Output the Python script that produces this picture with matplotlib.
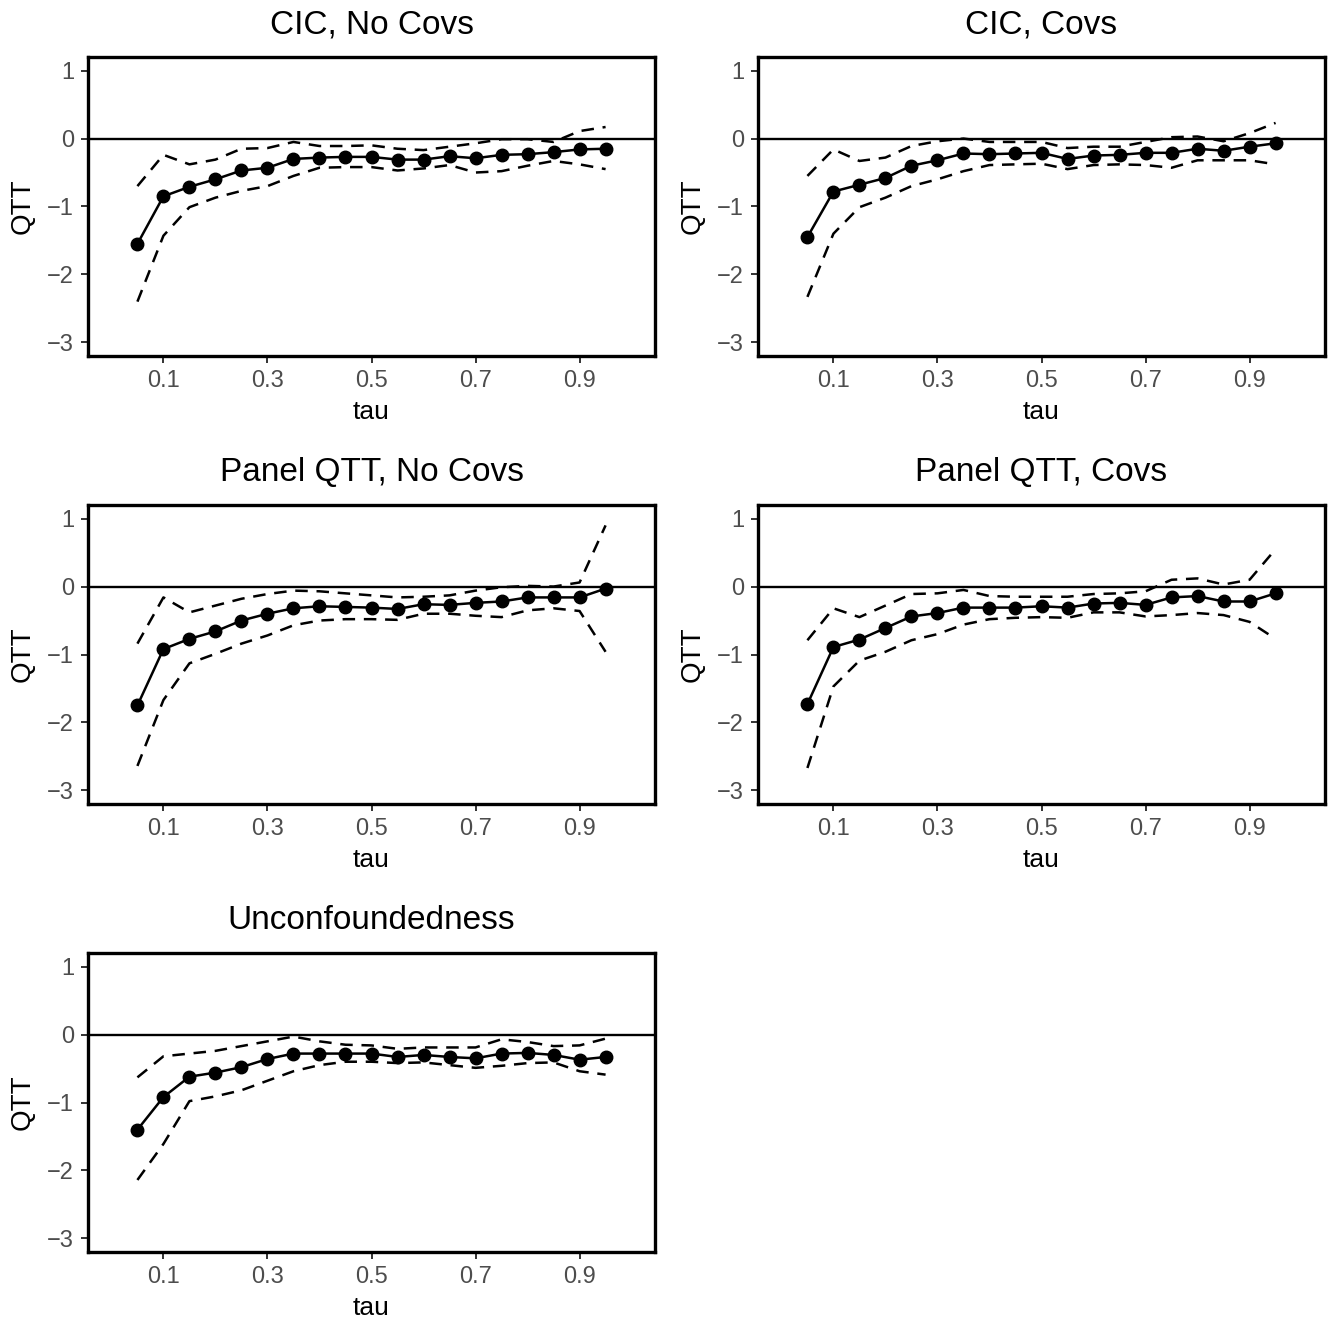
import matplotlib
matplotlib.use("Agg")
import matplotlib.pyplot as plt
import numpy as np

plt.rcParams['font.family'] = ['Liberation Sans', 'DejaVu Sans']

tau = np.array([0.05, 0.10, 0.15, 0.20, 0.25, 0.30, 0.35, 0.40, 0.45, 0.50,
                0.55, 0.60, 0.65, 0.70, 0.75, 0.80, 0.85, 0.90, 0.95])

titles = ["CIC, No Covs", "CIC, Covs", "Panel QTT, No Covs", "Panel QTT, Covs", "Unconfoundedness"]

# CIC, No Covs
cic_nc = [-1.55, -0.85, -0.71, -0.60, -0.47, -0.43, -0.30, -0.28, -0.27, -0.27,
          -0.31, -0.31, -0.26, -0.29, -0.24, -0.23, -0.20, -0.16, -0.15]
cic_nc_hi = [-0.70, -0.24, -0.38, -0.31, -0.15, -0.14, -0.05, -0.11, -0.11, -0.10,
             -0.15, -0.17, -0.12, -0.07, -0.01, -0.01, -0.05, 0.11, 0.17]
cic_nc_lo = [-2.40, -1.43, -1.01, -0.87, -0.77, -0.70, -0.55, -0.43, -0.42, -0.42,
             -0.47, -0.44, -0.39, -0.50, -0.48, -0.40, -0.33, -0.38, -0.45]

# CIC, Covs
cic_c = [-1.45, -0.78, -0.68, -0.58, -0.40, -0.32, -0.22, -0.23, -0.22, -0.21,
         -0.30, -0.25, -0.24, -0.21, -0.21, -0.15, -0.18, -0.12, -0.07]
cic_c_hi = [-0.55, -0.16, -0.33, -0.28, -0.11, -0.04, 0.00, -0.05, -0.05, -0.05,
            -0.14, -0.12, -0.12, -0.05, 0.02, 0.03, -0.04, 0.08, 0.23]
cic_c_lo = [-2.33, -1.40, -1.01, -0.87, -0.70, -0.60, -0.48, -0.39, -0.38, -0.37,
            -0.45, -0.39, -0.38, -0.39, -0.43, -0.32, -0.32, -0.32, -0.38]

# Panel QTT, No Covs
pq_nc = [-1.75, -0.92, -0.77, -0.66, -0.50, -0.40, -0.32, -0.29, -0.30, -0.31,
         -0.33, -0.26, -0.27, -0.24, -0.22, -0.16, -0.16, -0.16, -0.03]
pq_nc_hi = [-0.84, -0.16, -0.38, -0.28, -0.18, -0.11, -0.06, -0.07, -0.10, -0.13,
            -0.16, -0.15, -0.13, -0.06, -0.01, 0.01, 0.00, 0.06, 0.90]
pq_nc_lo = [-2.64, -1.67, -1.13, -0.99, -0.84, -0.72, -0.57, -0.50, -0.48, -0.48,
            -0.49, -0.40, -0.40, -0.43, -0.45, -0.35, -0.32, -0.36, -0.96]

# Panel QTT, Covs
pq_c = [-1.73, -0.89, -0.78, -0.61, -0.44, -0.39, -0.31, -0.31, -0.31, -0.29,
        -0.31, -0.25, -0.24, -0.27, -0.16, -0.14, -0.22, -0.22, -0.10]
pq_c_hi = [-0.79, -0.32, -0.45, -0.28, -0.11, -0.10, -0.05, -0.14, -0.15, -0.15,
           -0.15, -0.11, -0.10, -0.07, 0.10, 0.12, 0.03, 0.10, 0.55]
pq_c_lo = [-2.67, -1.47, -1.09, -0.96, -0.79, -0.70, -0.56, -0.48, -0.46, -0.45,
           -0.46, -0.38, -0.38, -0.44, -0.42, -0.39, -0.42, -0.52, -0.77]

# Unconfoundedness
unc = [-1.40, -0.92, -0.62, -0.56, -0.48, -0.36, -0.28, -0.28, -0.28, -0.28,
       -0.33, -0.30, -0.33, -0.35, -0.28, -0.27, -0.30, -0.37, -0.33]
unc_hi = [-0.63, -0.32, -0.28, -0.24, -0.17, -0.10, -0.03, -0.10, -0.15, -0.16,
          -0.21, -0.19, -0.19, -0.19, -0.07, -0.11, -0.17, -0.16, -0.06]
unc_lo = [-2.14, -1.61, -0.98, -0.91, -0.82, -0.68, -0.54, -0.45, -0.40, -0.40,
          -0.42, -0.41, -0.45, -0.49, -0.46, -0.42, -0.41, -0.54, -0.59]

est = [cic_nc, cic_c, pq_nc, pq_c, unc]
hi = [cic_nc_hi, cic_c_hi, pq_nc_hi, pq_c_hi, unc_hi]
lo = [cic_nc_lo, cic_c_lo, pq_nc_lo, pq_c_lo, unc_lo]

W, H = 1330, 1321
fig = plt.figure(figsize=(W / 100, H / 100), dpi=100)

lefts = [88, 758]
tops = [57, 505, 953]
aw, ah = 567, 299

for i in range(5):
    r, c = divmod(i, 2)
    ax = fig.add_axes([lefts[c] / W, 1 - (tops[r] + ah) / H, aw / W, ah / H])
    ax.axhline(0, color='black', lw=1.7)
    ax.plot(tau, hi[i], color='black', lw=1.8, ls=(0, (5, 3.5)))
    ax.plot(tau, lo[i], color='black', lw=1.8, ls=(0, (5, 3.5)))
    ax.plot(tau, est[i], color='black', lw=1.8, marker='o', ms=9)
    ax.set_xlim(-0.045, 1.045)
    ax.set_ylim(-3.2, 1.2)
    ax.set_xticks([0.1, 0.3, 0.5, 0.7, 0.9])
    ax.set_xticklabels(["0.1", "0.3", "0.5", "0.7", "0.9"])
    ax.set_yticks([1, 0, -1, -2, -3])
    ax.tick_params(labelsize=17, labelcolor='#4D4D4D', color='#333333', length=5, width=1.4, pad=5)
    for s in ax.spines.values():
        s.set_linewidth(2.4)
        s.set_color('black')
    ax.set_title(titles[i], fontsize=24, pad=17)
    ax.set_xlabel("tau", fontsize=19, va='center')
    ax.xaxis.set_label_coords(0.5, -(412 - 356) / ah)
    ax.set_ylabel("QTT", fontsize=20, va='center')
    ax.yaxis.set_label_coords(-(88 - 23) / aw, 0.5)

fig.savefig("out.png", dpi=100)
